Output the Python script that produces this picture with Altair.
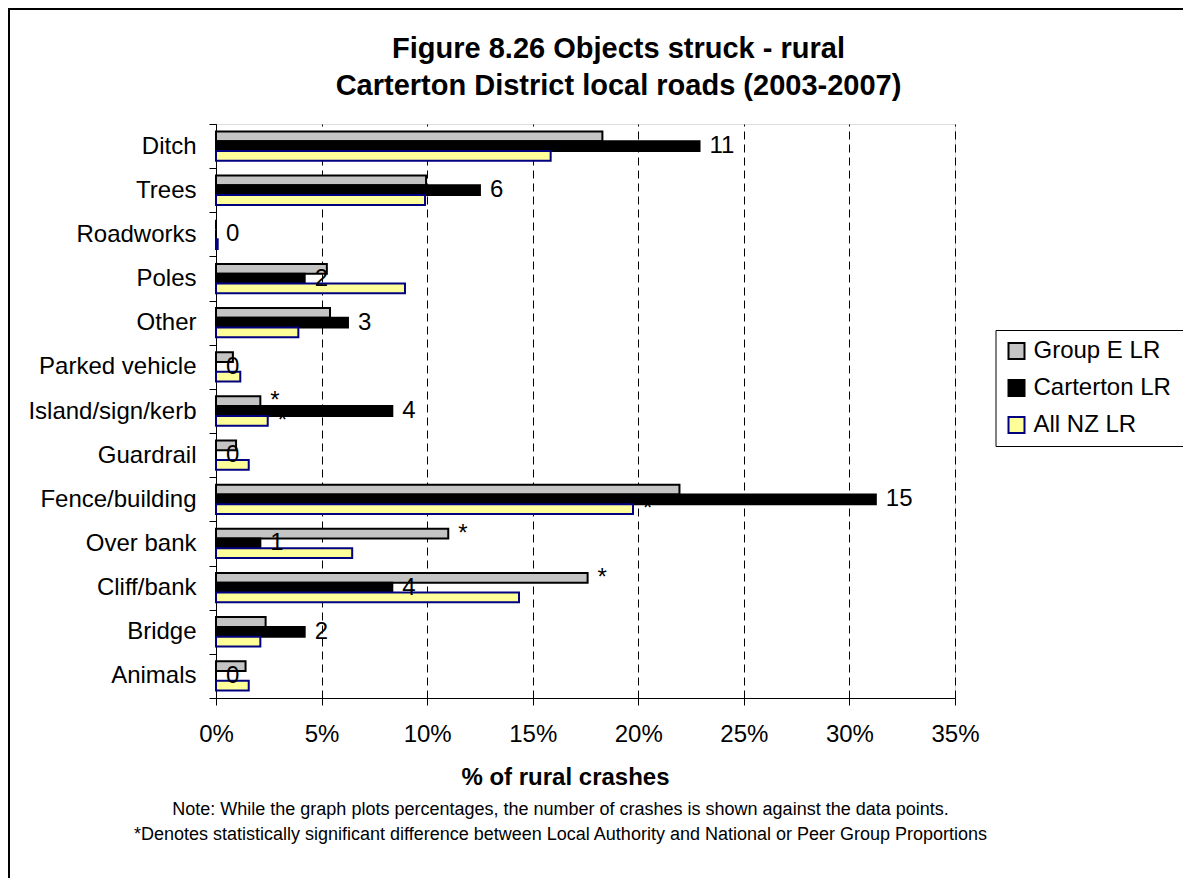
import altair as alt
import pandas as pd

categories = ["Ditch", "Trees", "Roadworks", "Poles", "Other", "Parked vehicle",
              "Island/sign/kerb", "Guardrail", "Fence/building", "Over bank",
              "Cliff/bank", "Bridge", "Animals"]
series_names = ["Group E LR", "Carterton  LR", "All NZ LR"]
group_e = [18.3, 9.95, 0.0, 5.25, 5.4, 0.8, 2.1, 0.95, 21.95, 11.0, 17.6, 2.35, 1.4]
carterton = [22.9, 12.5, 0.0, 4.2, 6.25, 0.0, 8.35, 0.0, 31.25, 2.1, 8.35, 4.2, 0.0]
all_nz = [15.85, 9.9, 0.08, 8.95, 3.9, 1.15, 2.45, 1.55, 19.75, 6.45, 14.35, 2.1, 1.55]
carterton_counts = ["11", "6", "0", "2", "3", "0", "4", "0", "15", "1", "4", "2", "0"]
group_e_sig = ["", "", "", "", "", "", "*", "", "", "*", "*", "", ""]
all_nz_sig = ["", "", "", "", "", "", "*", "", "*", "", "", "", ""]
x_ticks = [0, 5, 10, 15, 20, 25, 30, 35]

title_lines = ["Figure 8.26 Objects struck - rural", "Carterton District local roads (2003-2007)"]
x_title = "% of rural crashes"
note_lines = ["Note: While the graph plots percentages, the number of crashes is shown against the data points.",
              "*Denotes statistically significant difference between Local Authority and National or Peer Group Proportions"]

rows = []
for i, c in enumerate(categories):
    rows.append({"category": c, "series": series_names[0], "value": group_e[i], "label": group_e_sig[i]})
    rows.append({"category": c, "series": series_names[1], "value": carterton[i], "label": carterton_counts[i]})
    rows.append({"category": c, "series": series_names[2], "value": all_nz[i], "label": all_nz_sig[i]})
df = pd.DataFrame(rows)

W, H = 739, 574
FONT = "Liberation Sans"

y_enc = alt.Y("category:N", sort=categories,
              scale=alt.Scale(paddingInner=0, paddingOuter=0),
              axis=alt.Axis(title=None, labelFontSize=24, labelFont=FONT, labelColor="black",
                            tickBand="extent", tickSize=7, tickColor="black",
                            domainColor="black", labelPadding=13, grid=False,
                            labelLimit=400))
yoff_enc = alt.YOffset("series:N", sort=series_names,
                       scale=alt.Scale(domain=series_names, paddingInner=0, paddingOuter=0.76))
x_enc = alt.X("value:Q", scale=alt.Scale(domain=[0, 35], nice=False, zero=True),
              axis=alt.Axis(title=None, values=x_ticks, labelExpr="datum.value + '%'",
                            labelFontSize=24, labelFont=FONT, labelColor="black",
                            labelFlush=False, labelOverlap=False,
                            tickSize=7, tickColor="black", domainColor="black",
                            labelPadding=17, grid=True, gridColor="black",
                            gridDash=[8, 5], gridWidth=1))

legend = alt.Legend(title=None, orient="none", legendX=779.5, legendY=206,
                    labelFontSize=24, labelFont=FONT, labelColor="black",
                    symbolType="square", symbolSize=256, symbolStrokeWidth=2,
                    rowPadding=13, labelOffset=5, padding=9,
                    strokeColor="black", fillColor="white", labelLimit=300)

bars = alt.Chart(df).mark_bar(strokeWidth=2).encode(
    y=y_enc,
    yOffset=yoff_enc,
    x=x_enc,
    fill=alt.Fill("series:N", sort=series_names,
                  scale=alt.Scale(domain=series_names, range=["#c4c4c4", "#000000", "#FFFF99"]),
                  legend=legend),
    stroke=alt.Stroke("series:N", sort=series_names,
                      scale=alt.Scale(domain=series_names, range=["#000000", "#000000", "#000080"]),
                      legend=legend),
)

labels = alt.Chart(df).mark_text(align="left", baseline="middle", dx=10,
                                 fontSize=24, font=FONT, color="black").encode(
    y=alt.Y("category:N", sort=categories),
    yOffset=alt.YOffset("series:N", sort=series_names),
    x=alt.X("value:Q"),
    text="label:N",
)

one = pd.DataFrame({"k": [0]})
frame = alt.Chart(one).mark_rect(fill="transparent", stroke="black", strokeWidth=2).encode(
    x=alt.value(-207), x2=alt.value(977), y=alt.value(-115), y2=alt.value(800))

t1 = alt.Chart(one).mark_text(text=title_lines[0], fontSize=29, fontWeight="bold", font=FONT,
                              align="center", baseline="alphabetic", color="black").encode(
    x=alt.value(402.5), y=alt.value(-66))
t2 = alt.Chart(one).mark_text(text=title_lines[1], fontSize=29, fontWeight="bold", font=FONT,
                              align="center", baseline="alphabetic", color="black").encode(
    x=alt.value(402.5), y=alt.value(-29))
xt = alt.Chart(one).mark_text(text=x_title, fontSize=24, fontWeight="bold", font=FONT,
                              align="center", baseline="alphabetic", color="black").encode(
    x=alt.value(349.5), y=alt.value(661))
n1 = alt.Chart(one).mark_text(text=note_lines[0], fontSize=18, font=FONT,
                              align="center", baseline="alphabetic", color="black").encode(
    x=alt.value(344.5), y=alt.value(691))
n2 = alt.Chart(one).mark_text(text=note_lines[1], fontSize=18, font=FONT,
                              align="center", baseline="alphabetic", color="black").encode(
    x=alt.value(344.5), y=alt.value(716))

chart = alt.layer(frame, bars, labels, t1, t2, xt, n1, n2).properties(
    width=W, height=H,
    autosize=alt.AutoSizeParams(type="none"),
    padding={"left": 208, "top": 116, "right": 228, "bottom": 180},
).configure_view(stroke="black", strokeWidth=1).configure(background="white")

chart.save("out.html", embed_options={"renderer": "svg", "actions": False})
